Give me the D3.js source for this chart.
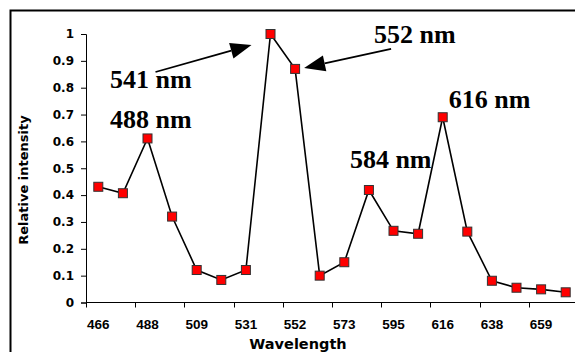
<!DOCTYPE html>
<html><head><meta charset="utf-8">
<script src="https://cdn.jsdelivr.net/npm/d3@7"></script>
<style>html,body{margin:0;padding:0;background:#fff;}svg{display:block;}</style>
</head><body>
<script>
const wavelengths = ["466","477","488","498","509","520","531","541","552","563","573","584","595","605","616","627","638","648","659","670"];
const intensity = [0.431,0.407,0.611,0.320,0.121,0.084,0.121,1.0,0.870,0.100,0.150,0.419,0.267,0.256,0.690,0.264,0.081,0.055,0.049,0.038];
const yTicks = [0,0.1,0.2,0.3,0.4,0.5,0.6,0.7,0.8,0.9,1];
const annotations = [
  {text:"541 nm", cat:"541"},
  {text:"488 nm", cat:"488"},
  {text:"552 nm", cat:"552"},
  {text:"584 nm", cat:"584"},
  {text:"616 nm", cat:"616"}
];

const W=575,H=352;
const svg=d3.select("body").append("svg").attr("width",W).attr("height",H);
svg.append("rect").attr("width",W).attr("height",H).attr("fill","#fff");
svg.append("rect").attr("x",10.5).attr("y",10.5).attr("width",W+20).attr("height",H+20)
  .attr("fill","none").attr("stroke","#000").attr("stroke-width",2);

const x=d3.scaleBand().domain(wavelengths).range([86,578]).padding(0);
const y=d3.scaleLinear().domain([0,1]).range([302.5,34]);
const font="'DejaVu Sans', Verdana, sans-serif";
const sans="'Liberation Sans', Arial, sans-serif";

// Y axis
const ya=svg.append("g").attr("transform","translate(86,0)")
  .call(d3.axisLeft(y).tickValues(yTicks).tickSize(5).tickPadding(7).tickFormat(d=>d3.format("")(+d.toFixed(1))));
ya.select(".domain").attr("stroke","#000").attr("stroke-width",1);
ya.selectAll(".tick line").attr("stroke","#000");
ya.selectAll("text").attr("font-family",font).attr("font-weight","bold").attr("font-size",12).attr("fill","#000");

// X axis
const xa=svg.append("g").attr("transform","translate(0,"+y(0)+")");
xa.append("line").attr("x1",86).attr("x2",W).attr("y1",0).attr("y2",0).attr("stroke","#000");
const shown=wavelengths.filter((d,i)=>i%2===0);
xa.selectAll("line.tk").data(shown).enter().append("line").attr("class","tk")
  .attr("x1",d=>Math.round(x(d))+0.5).attr("x2",d=>Math.round(x(d))+0.5).attr("y1",0).attr("y2",5).attr("stroke","#000");
xa.selectAll("text").data(shown).enter().append("text")
  .attr("x",d=>x(d)+x.bandwidth()/2).attr("y",26).attr("text-anchor","middle")
  .attr("font-family",sans).attr("font-weight","bold").attr("font-size",13.5).text(d=>d);

// Axis titles
svg.append("text").attr("transform","translate(28,180) rotate(-90)").attr("text-anchor","middle")
  .attr("font-family",font).attr("font-weight","bold").attr("font-size",13).text("Relative intensity");
svg.append("text").attr("x",298).attr("y",349).attr("text-anchor","middle")
  .attr("font-family",font).attr("font-weight","bold").attr("font-size",14.5).text("Wavelength");

// Line
const cx=d=>x(d)+x.bandwidth()/2;
const line=d3.line().x((d,i)=>cx(wavelengths[i])).y(d=>y(d));
svg.append("path").datum(intensity).attr("d",line).attr("fill","none").attr("stroke","#000").attr("stroke-width",1.6);

// Markers
svg.selectAll("rect.m").data(intensity).enter().append("rect").attr("class","m")
  .attr("x",(d,i)=>cx(wavelengths[i])-4.5).attr("y",d=>y(d)-4.5).attr("width",9).attr("height",9)
  .attr("fill","#ff0000").attr("stroke","#333").attr("stroke-width",1);

// Annotations
const ann={};
annotations.forEach(a=>ann[a.cat]=a);
const serif="'Liberation Serif','Times New Roman',serif";
const idx=c=>wavelengths.indexOf(c);
function label(c,dx,dy){
  svg.append("text").attr("x",cx(c)+dx).attr("y",y(intensity[idx(c)])+dy)
    .attr("font-family",serif).attr("font-weight","bold").attr("font-size",26).text(ann[c].text);
}
label("541",-160.5,54);
label("488",-37.5,-10);
label("552",79,-26);
label("584",-19,-22);
label("616",6,-9);

function arrow(x1,y1,x2,y2){
  const ang=Math.atan2(y2-y1,x2-x1), L=21, hw=8;
  const bx=x2-L*Math.cos(ang), by=y2-L*Math.sin(ang);
  svg.append("line").attr("x1",x1).attr("y1",y1).attr("x2",bx).attr("y2",by).attr("stroke","#000").attr("stroke-width",1.8);
  const px=-Math.sin(ang)*hw, py=Math.cos(ang)*hw;
  svg.append("path").attr("d",`M${x2},${y2}L${bx+px},${by+py}L${bx-px},${by-py}Z`).attr("fill","#000");
}
const p541=[cx("541"),y(intensity[idx("541")])];
const p552=[cx("552"),y(intensity[idx("552")])];
arrow(p541[0]-115,p541[1]+38,p541[0]-19,p541[1]+11);
arrow(p552[0]+96,p552[1]-20,p552[0]+9,p552[1]-1);
</script>
</body></html>
